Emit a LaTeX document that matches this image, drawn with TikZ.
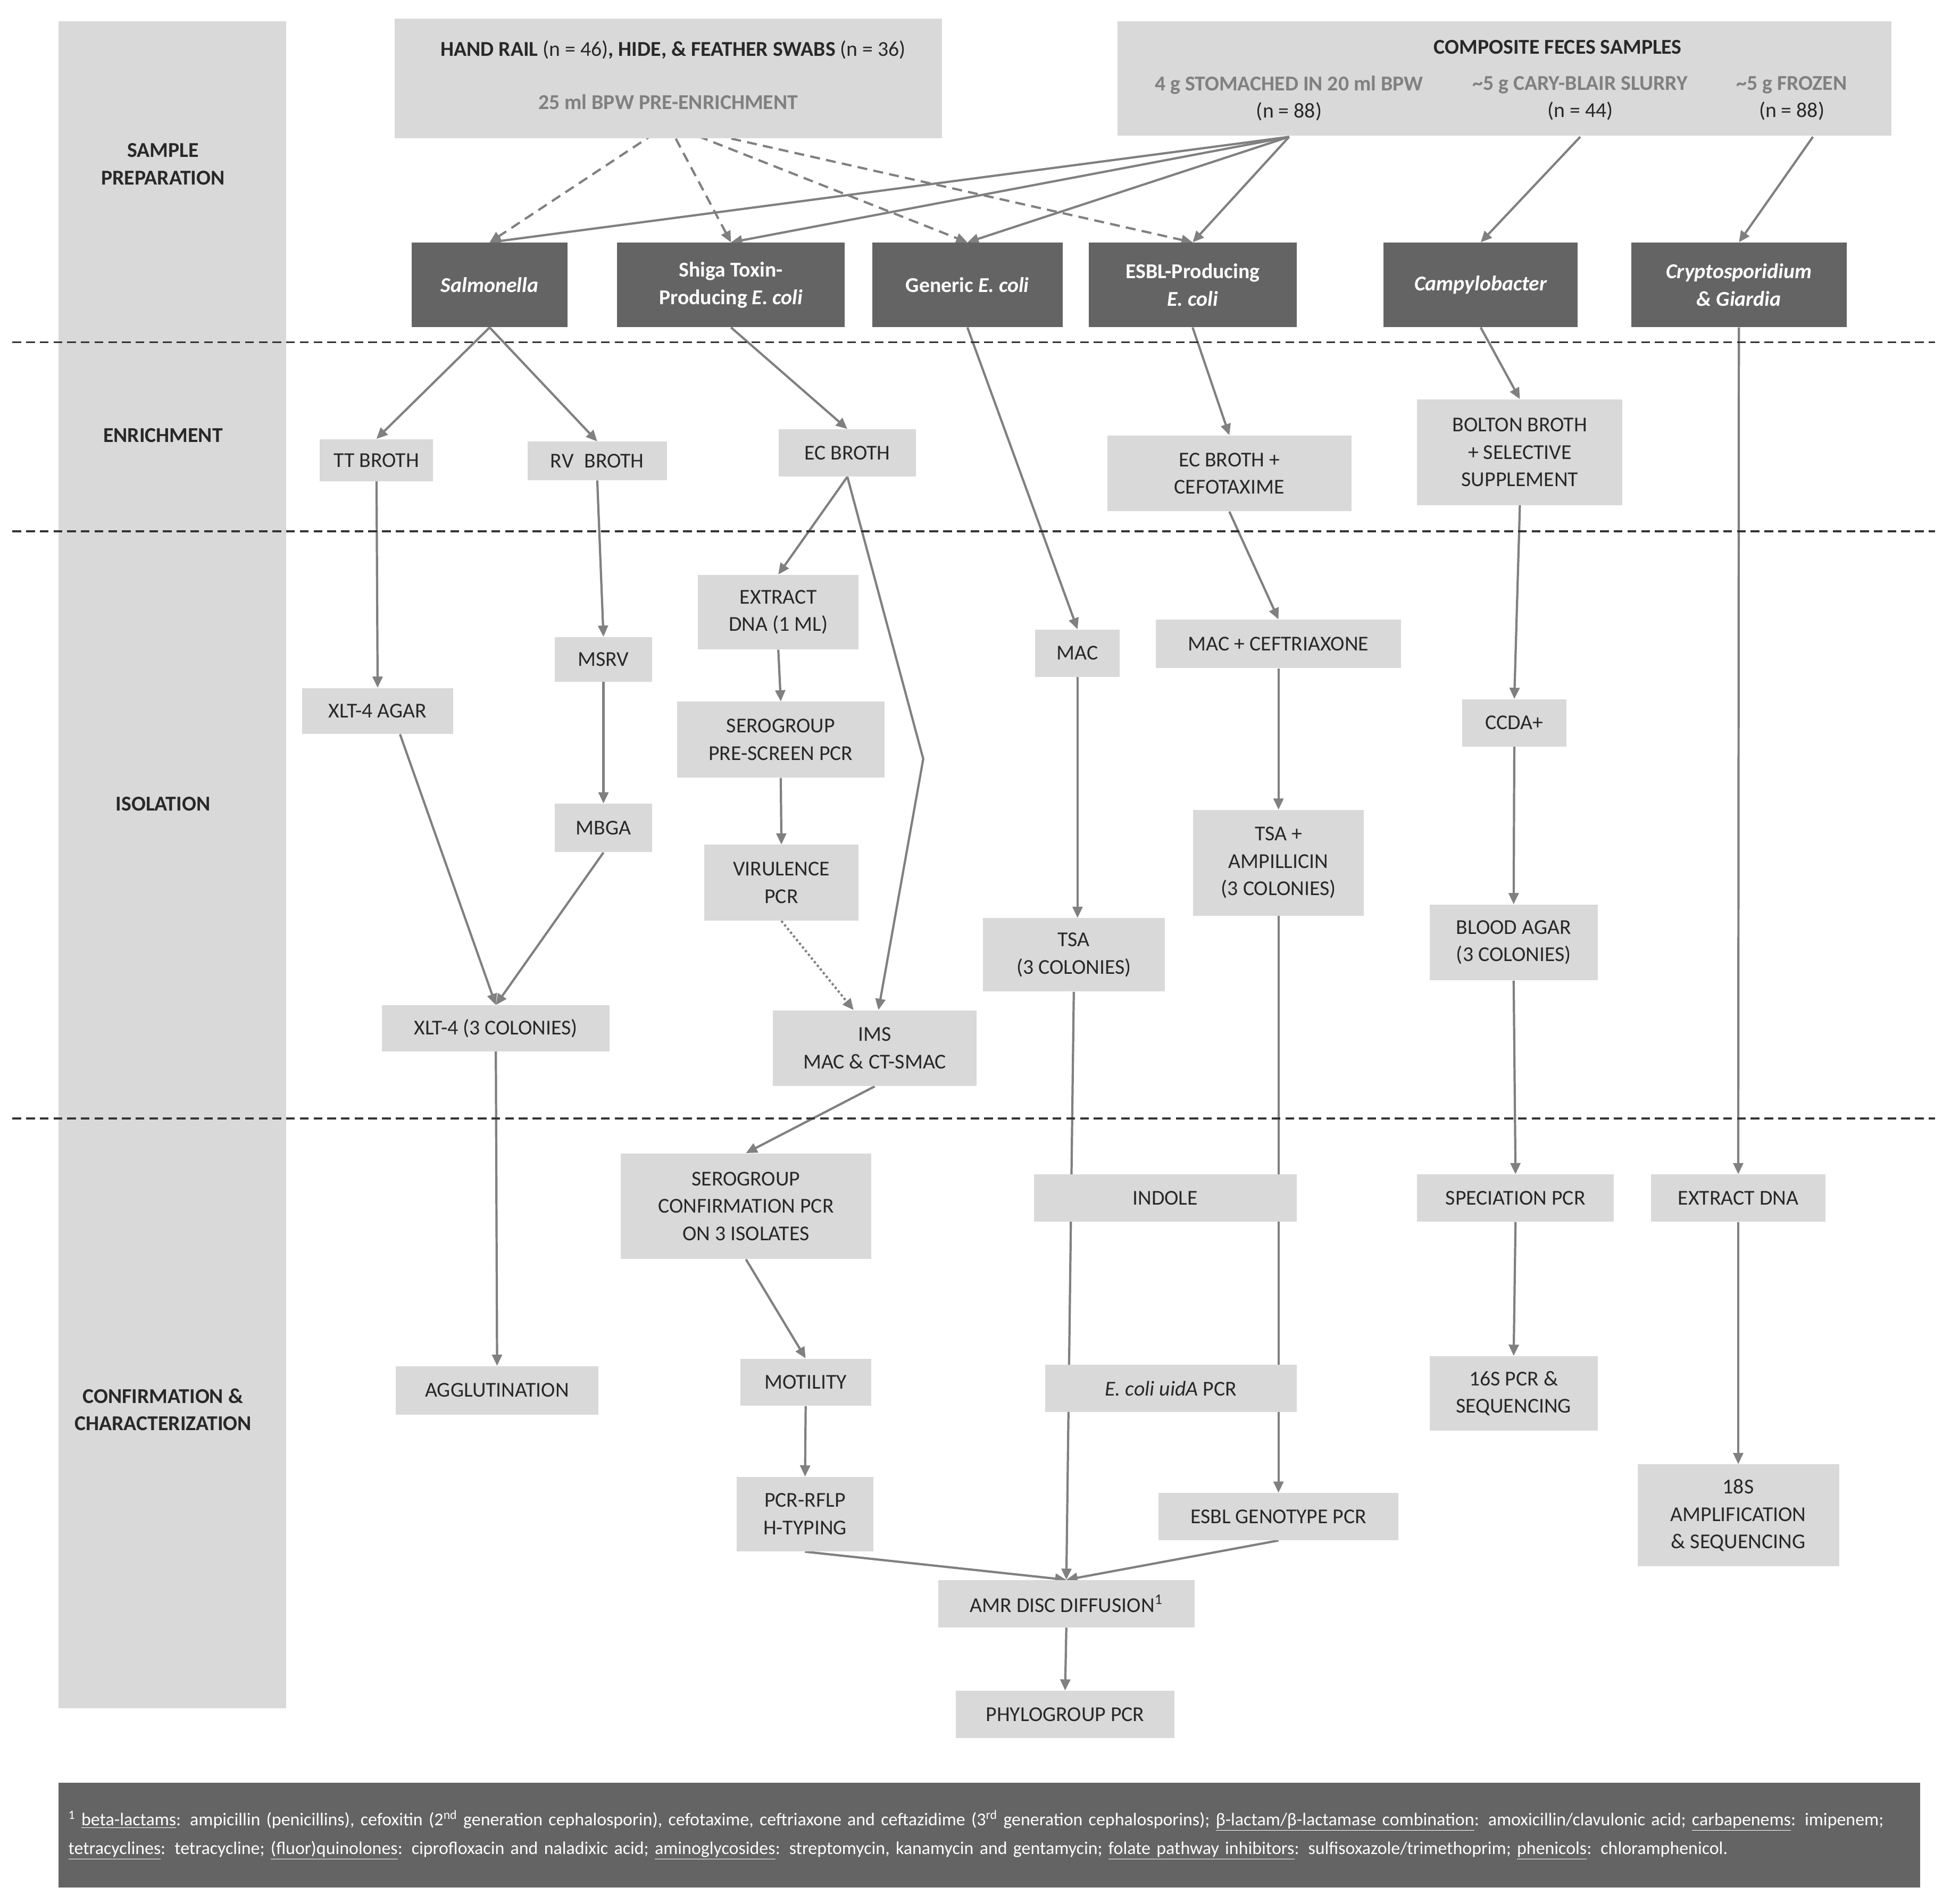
\documentclass[tikz,border=0pt]{standalone}
\usepackage{fontspec}
\setmainfont{Carlito}
\usetikzlibrary{arrows.meta}
\pgfdeclarelayer{bg}\pgfsetlayers{bg,main}
\definecolor{lb}{RGB}{217,217,217}
\definecolor{db}{RGB}{100,100,100}
\definecolor{ar}{RGB}{128,128,128}
\definecolor{tx}{RGB}{40,40,40}
\begin{document}
\begin{tikzpicture}[x=1pt,y=-1pt,
  every node/.style={font=\fontsize{17}{22}\selectfont,text=tx,inner sep=0pt,align=center},
  box/.style={fill=lb},
  dbox/.style={fill=db,text=white,font=\fontsize{17}{22}\selectfont\bfseries},
  lab/.style={font=\fontsize{17}{22}\selectfont\bfseries},
  arr/.style={draw=ar,line width=1.8pt,-{Triangle[length=9pt,width=8pt]}},
  dsh/.style={arr,dash pattern=on 8pt off 5pt},
  sep/.style={draw=black!80,line width=1.5pt,dash pattern=on 7pt off 4pt}]
\useasboundingbox (0,0) rectangle (1568,1530);
% left column
\fill[lb] (47,17) rectangle (230,1373);
\node[lab] (lsp) at (131,132) {SAMPLE\\PREPARATION};
\node[lab] (len) at (131,350) {ENRICHMENT};
\node[lab] (lis) at (131,646) {ISOLATION};
\node[lab] (lcc) at (131,1133) {CONFIRMATION \&\\CHARACTERIZATION};
\draw[sep] (10,275) -- (1555,275);
\draw[sep] (10,427) -- (1555,427);
\draw[sep] (10,899) -- (1555,899);
% top boxes
\node[box,minimum width=440,minimum height=96] (t1) at (537,63) {};
\node (t1a) at (541,40) {\textbf{HAND RAIL} (n = 46)\textbf{, HIDE, \& FEATHER SWABS} (n = 36)};
\node[text=ar] (t1b) at (537,82) {\textbf{25 ml BPW PRE-ENRICHMENT}};
\coordinate (d1) at (537,100);
\node[box,minimum width=622,minimum height=92] (t2) at (1209,63) {};
\node[lab] (t2a) at (1252,38) {COMPOSITE FECES SAMPLES};
\node (t2b) at (1036,79) {\textcolor{ar}{\textbf{4 g STOMACHED IN 20 ml BPW}}\\(n = 88)};
\node (t2c) at (1270,79) {\textcolor{ar}{\textbf{\textasciitilde 5 g CARY-BLAIR SLURRY}}\\(n = 44)};
\node (t2d) at (1440,79) {\textcolor{ar}{\textbf{\textasciitilde 5 g FROZEN}}\\(n = 88)};
\coordinate (s1) at (1036,110);
\coordinate (s2) at (1270,110);
\coordinate (s3) at (1457,110);
% organisms
\node[dbox,minimum width=125,minimum height=68] (sal) at (393.5,229) {\itshape Salmonella};
\node[dbox,minimum width=183,minimum height=68] (stec) at (587.5,229) {Shiga Toxin-\\Producing \textit{E. coli}};
\node[dbox,minimum width=153,minimum height=68] (gen) at (777.5,229) {Generic \textit{E. coli}};
\node[dbox,minimum width=167,minimum height=68] (esbl) at (958.5,229) {ESBL-Producing\\\textit{E. coli}};
\node[dbox,minimum width=156,minimum height=68] (cam) at (1190,229) {\itshape Campylobacter};
\node[dbox,minimum width=173,minimum height=68] (cry) at (1397.5,229) {\itshape Cryptosporidium\\\itshape \& Giardia};
% enrichment
\node[box,minimum width=91,minimum height=34] (tt) at (302.5,370) {TT BROTH};
\node[box,minimum width=112,minimum height=31] (rv) at (480,370.5) {RV\enspace BROTH};
\node[box,minimum width=110,minimum height=38] (ec) at (681,364) {EC BROTH};
\node[box,minimum width=196,minimum height=61] (eccef) at (988,380.5) {EC BROTH +\\CEFOTAXIME};
\node[box,minimum width=165,minimum height=85] (bol) at (1221.5,363.5) {BOLTON BROTH\\+ SELECTIVE\\SUPPLEMENT};
% isolation
\node[box,minimum width=121,minimum height=37] (xlt) at (303.5,571.5) {XLT-4 AGAR};
\node[box,minimum width=78,minimum height=36] (msrv) at (485,530) {MSRV};
\node[box,minimum width=78,minimum height=39] (mbga) at (485,665.5) {MBGA};
\node[box,minimum width=129,minimum height=60] (exd) at (625.5,492) {EXTRACT\\DNA (1 ML)};
\node[box,minimum width=167,minimum height=61] (spre) at (627.5,594.5) {SEROGROUP\\PRE-SCREEN PCR};
\node[box,minimum width=124,minimum height=61] (vir) at (628,709.5) {VIRULENCE\\PCR};
\node[box,minimum width=164,minimum height=61] (ims) at (703,842.5) {IMS\\MAC \& CT-SMAC};
\node[box,minimum width=183,minimum height=37] (xlt3) at (398.5,826.5) {XLT-4 (3 COLONIES)};
\node[box,minimum width=68,minimum height=38] (mac) at (866,525) {MAC};
\node[box,minimum width=197,minimum height=39] (maccef) at (1027.5,517.5) {MAC + CEFTRIAXONE};
\node[box,minimum width=137,minimum height=85] (tsaamp) at (1027.5,693.5) {TSA +\\AMPILLICIN\\(3 COLONIES)};
\node[box,minimum width=146,minimum height=59] (tsa) at (863,767.5) {TSA\\(3 COLONIES)};
\node[box,minimum width=84,minimum height=38] (ccda) at (1217,581) {CCDA+};
\node[box,minimum width=135,minimum height=61] (blood) at (1216.5,757.5) {BLOOD AGAR\\(3 COLONIES)};
% confirmation
\node[box,minimum width=201,minimum height=85] (sconf) at (599.5,969.5) {SEROGROUP\\CONFIRMATION PCR\\ON 3 ISOLATES};
\node[box,minimum width=211,minimum height=38] (ind) at (936.5,963) {INDOLE};
\node[box,minimum width=158,minimum height=38] (spec) at (1218,963) {SPECIATION PCR};
\node[box,minimum width=140,minimum height=38] (exd2) at (1397,963) {EXTRACT DNA};
\node[box,minimum width=163,minimum height=39] (agg) at (399.5,1117.5) {AGGLUTINATION};
\node[box,minimum width=105,minimum height=38] (mot) at (647.5,1111) {MOTILITY};
\node[box,minimum width=202,minimum height=38] (uid) at (941,1116) {\textit{E. coli uidA} PCR};
\node[box,minimum width=135,minimum height=60] (s16) at (1216.5,1120) {16S PCR \&\\SEQUENCING};
\node[box,minimum width=110,minimum height=60] (rflp) at (647,1217) {PCR-RFLP\\H-TYPING};
\node[box,minimum width=193,minimum height=38] (egen) at (1027.5,1219) {ESBL GENOTYPE PCR};
\node[box,minimum width=162,minimum height=82] (s18) at (1397,1218) {18S\\AMPLIFICATION\\\& SEQUENCING};
\node[box,minimum width=206,minimum height=38] (amr) at (857,1289) {AMR DISC DIFFUSION\textsuperscript{1}};
\node[box,minimum width=176,minimum height=38] (phy) at (856,1378) {PHYLOGROUP PCR};
% footnote
\node[fill=db,minimum width=1496,minimum height=84,text=white,align=left,text width=1480,
  font=\fontsize{14.5}{23}\selectfont] (fn) at (795,1475) {\textsuperscript{1} \underline{beta-lactams}: ampicillin (penicillins), cefoxitin (2\textsuperscript{nd} generation cephalosporin), cefotaxime, ceftriaxone and ceftazidime (3\textsuperscript{rd} generation cephalosporins); \underline{β-lactam/β-lactamase combination}: amoxicillin/clavulonic acid; \underline{carbapenems}: imipenem; \underline{tetracyclines}: tetracycline; \underline{(fluor)quinolones}: ciprofloxacin and naladixic acid; \underline{aminoglycosides}: streptomycin, kanamycin and gentamycin; \underline{folate pathway inhibitors}: sulfisoxazole/trimethoprim; \underline{phenicols}: chloramphenicol.};
% connectors
\begin{pgfonlayer}{bg}
\draw[arr] (s1) -- (sal.north);
\draw[arr] (s1) -- (stec.north);
\draw[arr] (s1) -- (gen.north);
\draw[arr] (s1) -- (esbl.north);
\draw[dsh] (d1) -- (sal.north);
\draw[dsh] (d1) -- (stec.north);
\draw[dsh] (d1) -- (gen.north);
\draw[dsh] (d1) -- (esbl.north);
\draw[arr] (s2) -- (cam.north);
\draw[arr] (s3) -- (cry.north);
\draw[arr] (sal.south) -- (tt.north);
\draw[arr] (sal.south) -- (rv.north);
\draw[arr] (stec.south) -- (ec.north);
\draw[arr] (gen.south) -- (mac.north);
\draw[arr] (esbl.south) -- (eccef.north);
\draw[arr] (cam.south) -- (bol.north);
\draw[arr] (cry.south) -- (exd2.north);
\draw[arr] ([yshift=20]tt.south) -- (xlt.north);
\draw[arr] (rv.south) -- (msrv.north);
\draw[arr] (msrv.south) -- (mbga.north);
\draw[arr] ([xshift=18]xlt.south) -- (xlt3.north);
\draw[arr] (mbga.south) -- (xlt3.north);
\draw[arr] (ec.south) -- (exd.north);
\draw[arr] (ec.south) -- (742,610) -- ([xshift=3]ims.north);
\draw[arr] (exd.south) -- (spre.north);
\draw[arr] (spre.south) -- (vir.north);
\draw[arr,dotted] (vir.south) -- ([xshift=-17]ims.north);
\draw[arr] (ims.south) -- (sconf.north);
\draw[arr] (xlt3.south) -- (agg.north);
\draw[arr] (sconf.south) -- (mot.north);
\draw[arr] (mot.south) -- (rflp.north);
\draw[arr] (mac.south) -- (tsa.north -| mac.south);
\draw[arr] (tsa.south) -- (amr.north);
\draw[arr] (eccef.south) -- (maccef.north);
\draw[arr] (maccef.south) -- (tsaamp.north);
\draw[arr] (tsaamp.south) -- (egen.north);
\draw[arr] (rflp.south) -- (amr.north);
\draw[arr] (egen.south) -- (amr.north);
\draw[arr] (amr.south) -- (phy.north);
\draw[arr] (bol.south) -- (ccda.north);
\draw[arr] (ccda.south) -- (blood.north);
\draw[arr] (blood.south) -- (spec.north);
\draw[arr] (spec.south) -- (s16.north);
\draw[arr] (exd2.south) -- (s18.north);
\end{pgfonlayer}
\end{tikzpicture}
\end{document}
